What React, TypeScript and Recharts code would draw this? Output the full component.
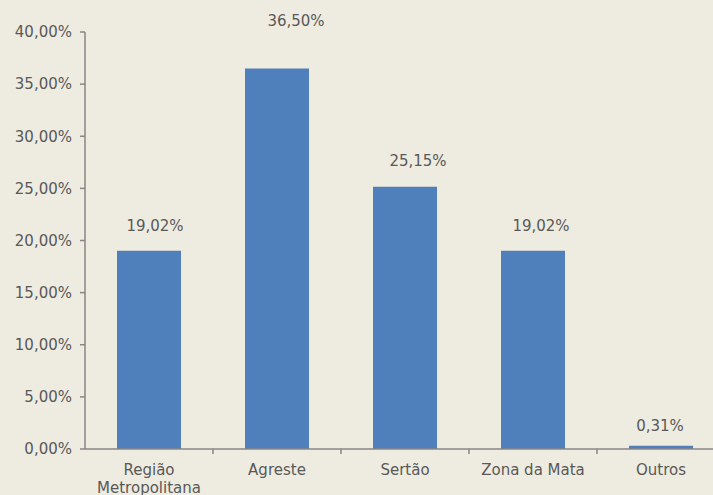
import React from 'react';
import { BarChart, Bar, XAxis, YAxis, LabelList, Text } from 'recharts';

const categories = ['Região Metropolitana', 'Agreste', 'Sertão', 'Zona da Mata', 'Outros'];
const shares = [19.02, 36.5, 25.15, 19.02, 0.31];
const yTicks = [0, 5, 10, 15, 20, 25, 30, 35, 40];

// label placement tweaks (dx, lift above bar top), as in the original sheet
const labelNudge = [
  { dx: 6, lift: 20 },
  { dx: 19, lift: 42 },
  { dx: 13, lift: 21 },
  { dx: 8, lift: 20 },
  { dx: -1, lift: 15 },
];

const data = categories.map((name, i) => ({ name, value: shares[i] }));

const CHART_W = 725;
const CHART_H = 495;
const Y_W = 85;
const BAND = (CHART_W - Y_W) / categories.length;
const FONT = 'DejaVu Sans';
const TEXT = '#595959';
const AXIS = '#878787';

const pct = (v: number) => v.toFixed(2).replace('.', ',') + '%';

const CategoryTick = (props: any) => {
  const { x, y, payload, index } = props;
  return (
    <g>
      {index > 0 && (
        <line x1={x - BAND / 2} x2={x - BAND / 2} y1={y} y2={y + 5} stroke={AXIS} strokeWidth={1.5} />
      )}
      <Text
        x={x}
        y={y + 15}
        width={BAND - 8}
        textAnchor="middle"
        verticalAnchor="start"
        lineHeight={18}
        fill={TEXT}
        fontSize={15}
        fontFamily={FONT}
      >
        {payload.value}
      </Text>
    </g>
  );
};

const ValueLabel = (props: any) => {
  const { x, y, width, value, index } = props;
  const n = labelNudge[index] || { dx: 0, lift: 20 };
  return (
    <text
      x={x + width / 2 + n.dx}
      y={y - n.lift}
      textAnchor="middle"
      fill={TEXT}
      fontSize={15}
      fontFamily={FONT}
    >
      {pct(value)}
    </text>
  );
};

export default function App() {
  return (
    <div
      style={{
        position: 'absolute',
        left: 0,
        top: 0,
        width: 713,
        height: 495,
        overflow: 'hidden',
        background: '#EEEBE0',
        fontFamily: FONT,
      }}
    >
      <BarChart
        width={CHART_W}
        height={CHART_H}
        data={data}
        margin={{ top: 32, right: 0, bottom: 0, left: 0 }}
        barCategoryGap="25%"
      >
        <YAxis
          width={Y_W}
          domain={[0, 40]}
          ticks={yTicks}
          tickFormatter={pct}
          axisLine={{ stroke: AXIS, strokeWidth: 1.5 }}
          tickLine={{ stroke: AXIS, strokeWidth: 1.5 }}
          tickSize={5}
          tickMargin={8}
          tick={{ fill: TEXT, fontSize: 15, fontFamily: FONT }}
          interval={0}
        />
        <XAxis
          dataKey="name"
          height={46}
          interval={0}
          axisLine={{ stroke: AXIS, strokeWidth: 1.5 }}
          tickLine={false}
          tickSize={0}
          tickMargin={0}
          tick={<CategoryTick />}
        />
        <Bar dataKey="value" fill="#4F80BC" isAnimationActive={false}>
          <LabelList dataKey="value" content={<ValueLabel />} />
        </Bar>
      </BarChart>
    </div>
  );
}
